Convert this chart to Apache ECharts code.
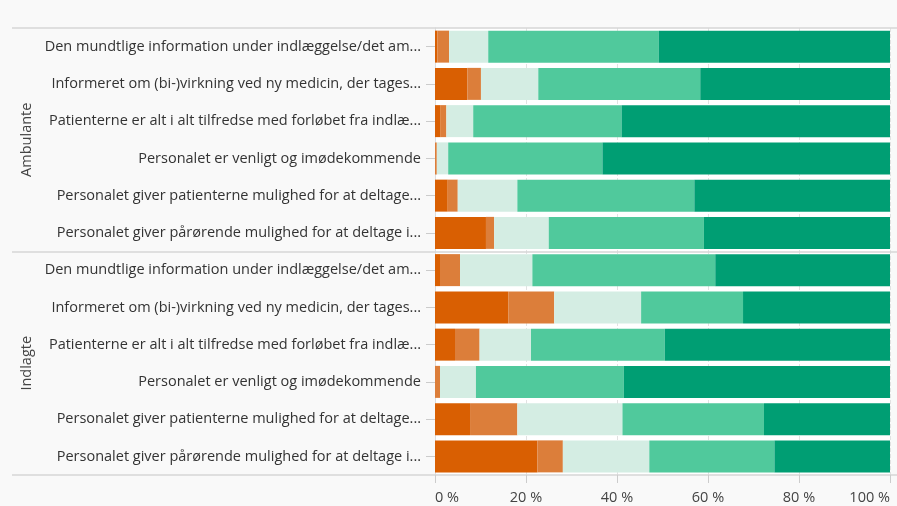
<html>
<head>
    <meta charset="utf-8">
    <title>Tilfredshed – Ambulante og Indlagte</title>
    <script src="https://cdn.jsdelivr.net/npm/echarts@6/dist/echarts.min.js"></script>
    <style>
        body { margin: 0; background: #f9f9f9; }
    </style>
</head>
<body>
<div id="main" style="width: 897px;height:506px;"></div>
<script>
    // spørgsmål (samme 6 for begge grupper)
    var questions = [
        'Den mundtlige information under indlæggelse/det am...',
        'Informeret om (bi-)virkning ved ny medicin, der tages...',
        'Patienterne er alt i alt tilfredse med forløbet fra indlæ...',
        'Personalet er venligt og imødekommende',
        'Personalet giver patienterne mulighed for at deltage...',
        'Personalet giver pårørende mulighed for at deltage i...'
    ];
    var groups = ['Ambulante', 'Indlagte'];
    var categories = questions.concat(questions);

    var xTicks = [0, 20, 40, 60, 80, 100];

    // andele i procent, Ambulante først, så Indlagte
    var seriesNames = ['Meget uenig', 'Uenig', 'Hverken/eller', 'Enig', 'Meget enig'];
    var megetUenig = [0.5, 7.1, 1.25, 0, 2.8, 11.2, 1.1, 16.1, 4.4, 0, 7.7, 22.5];
    var uenig = [2.6, 3.0, 1.25, 0.4, 2.2, 1.8, 4.4, 10.1, 5.4, 1.1, 10.4, 5.6];
    var hverken = [8.6, 12.6, 5.9, 2.5, 13.1, 12.0, 15.9, 19.1, 11.3, 7.9, 23.1, 19.0];
    var enig = [37.5, 35.6, 32.6, 33.9, 38.9, 34.1, 40.2, 22.4, 29.4, 32.5, 31.1, 27.5];
    var megetEnig = [50.8, 41.7, 59.0, 63.2, 43.0, 40.9, 38.4, 32.3, 49.5, 58.5, 27.7, 25.4];

    var colors = ['#d95f02', '#dc7e3a', '#d4ede3', '#50c99c', '#009e73'];
    var values = [megetUenig, uenig, hverken, enig, megetEnig];

    var myChart = echarts.init(document.getElementById('main'));
    myChart.setOption({
        backgroundColor: '#f9f9f9',
        textStyle: { fontFamily: 'Open Sans' },
        grid: {
            left: 435, right: 7, top: 28, bottom: 31,
            outerBoundsMode: 'none',
            show: true, backgroundColor: '#ffffff', borderWidth: 0
        },
        xAxis: {
            type: 'value',
            min: xTicks[0],
            max: xTicks[xTicks.length - 1],
            interval: 20,
            axisLine: { show: false },
            axisTick: { show: true, length: 8, lineStyle: { color: '#cccccc' } },
            axisLabel: {
                formatter: '{value} %', color: '#444', fontSize: 14.5, margin: 15,
                alignMinLabel: 'left', alignMaxLabel: 'right'
            },
            splitLine: { show: true, lineStyle: { color: '#e2e2e2', type: 'dashed' } }
        },
        yAxis: [{
            type: 'category',
            data: categories,
            inverse: true,
            axisLine: { show: true, lineStyle: { color: '#dddddd' } },
            axisTick: { show: true, alignWithLabel: true, length: 9, lineStyle: { color: '#cccccc' } },
            axisLabel: { color: '#333', fontSize: 14.5, margin: 14 },
            splitLine: { show: false }
        }, {
            // gruppe-akse: Ambulante / Indlagte
            type: 'category',
            data: groups,
            inverse: true,
            position: 'left',
            offset: 423,
            axisLine: { show: false },
            axisTick: { show: true, inside: true, length: 885, lineStyle: { color: '#d6d6d6', width: 1.5 } },
            axisLabel: { inside: true, rotate: 90, color: '#444', fontSize: 14.5, margin: 7 }
        }],
        series: seriesNames.map(function (name, i) {
            return {
                name: name,
                type: 'bar',
                stack: 'total',
                yAxisIndex: 0,
                barWidth: 32,
                itemStyle: { color: colors[i] },
                data: values[i]
            };
        })
    });
</script>
</body>
</html>
